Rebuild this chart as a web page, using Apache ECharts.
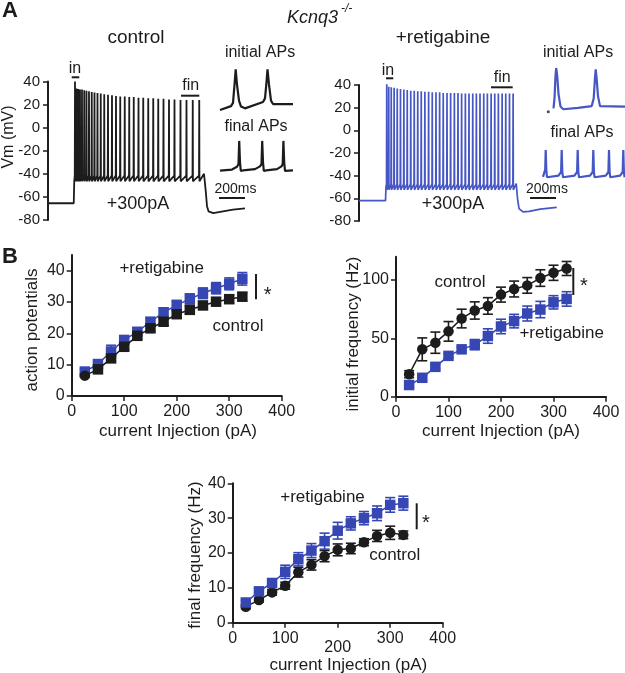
<!DOCTYPE html>
<html>
<head>
<meta charset="utf-8">
<script src="https://cdn.jsdelivr.net/npm/echarts@6/dist/echarts.min.js"></script>
<style>
  html, body { margin: 0; padding: 0; background: #fff; }
  #main { width: 625px; height: 673px; }
</style>
</head>
<body>
<div id="main"></div>
<script>
// ---- panel A : whole sweeps (time in ms, Vm in mV) ----
var ctrlPre = [[0, -65.5], [206, -65.5], [210, -46]];
var ctrlSpikeT = [216, 228, 242, 256, 272, 290, 308, 328, 350, 372, 396, 422, 450, 480, 512, 544,
  578, 614, 650, 686, 724, 762, 802, 842, 882, 924, 968, 1012, 1060, 1108, 1158, 1210];
var ctrlSpikePeak = [40, 34, 33.5, 33, 33, 32.5, 32, 31.5, 31, 30.5, 30, 29.5, 29, 28.5, 28, 27.5,
  27, 27, 26.5, 26.5, 26, 26, 25.5, 25.5, 25, 25, 24.5, 24.5, 24, 24, 24, 24];
var ctrlTrough = -45.5;
var ctrlPost = [[1225, -44], [1248, -40], [1256, -38.5], [1262, -55], [1272, -68], [1284, -72.5],
  [1322, -74], [1400, -72.5], [1480, -71], [1576, -70]];

var retPre = [[0, -62], [212, -62], [216, -50]];
var retSpikeT = [222, 238, 258, 281, 306, 332, 359, 386, 414, 442, 470, 498, 527, 557, 586, 616,
  645, 674, 704, 733, 763, 792, 821, 851, 880, 910, 939, 968, 998, 1027, 1057, 1086, 1115, 1145,
  1174, 1204, 1233];
var retSpikePeak = [43, 38.5, 38, 37.5, 37, 36.5, 36, 35.5, 35, 35, 34.5, 34.5, 34, 34, 33.5, 33.5,
  33.5, 33, 33, 33, 33, 33, 32.5, 32.5, 32.5, 32.5, 32.5, 32.5, 32.5, 32.5, 32.5, 32.5, 32.5, 32.5,
  32.5, 32.5, 32.5];
var retTrough = -51.5;
var retPost = [[1245, -51], [1258, -47], [1263, -47], [1268, -60], [1280, -69], [1312, -72],
  [1360, -71.5], [1450, -69.5], [1582, -68]];

// ---- panel A insets (arbitrary ms, mV) ----
var ctrlInit = [[0, -65.6], [11, -57], [13, -50], [14.5, -10], [15.7, 24], [17, -10], [19, -45],
  [21, -58], [25, -62], [43, -48], [45, -40], [46.3, -10], [47.5, 24], [49, -10], [51, -45],
  [53, -52.5], [73, -52.5]];
var ctrlFin = [[0, -38.5], [12, -36], [17, -30], [18.5, -24], [19.2, 27], [20, -20], [20.8, -39],
  [23, -38], [35, -35], [40, -29], [41.5, -24], [42.2, 27], [43, -20], [43.8, -39], [46, -38],
  [57, -35], [61.5, -29], [62.7, -24], [63.4, 27], [64.2, -20], [65, -39], [67, -38], [73, -38]];
var retInit = [[10.5, -62], [11.5, -40], [12.5, 10], [13.2, 26.8], [14.2, 10], [15.5, -30],
  [17.5, -58], [20.3, -64], [35, -61], [48.7, -57], [50.7, -40], [52, 5], [52.7, 24], [53.6, 5],
  [55, -35], [57, -57], [82, -58]];
var retInitDot = [[5.3, -69.5]];
var retFin = [[0, -41], [1.5, -38], [2.2, -25], [2.7, 18], [3.3, -25], [4, -42], [6, -42],
  [15.5, -38.5], [18.1, -30], [18.7, 18], [19.3, -30], [20, -42], [22, -42],
  [31.5, -38.5], [34.1, -30], [34.7, 18], [35.3, -30], [36, -42], [38, -42],
  [47.1, -38.5], [49.7, -30], [50.3, 18], [50.9, -30], [51.6, -42], [53.6, -42],
  [62.8, -38.5], [65.4, -30], [66, 18], [66.6, -30], [67.3, -42], [69.3, -42],
  [77.1, -38.5], [79.7, -30], [80.3, 18], [80.9, -30], [81.6, -42], [82, -42]];

// ---- panel B : current steps (pA) ----
var currents = [25, 50, 75, 100, 125, 150, 175, 200, 225, 250, 275, 300, 325];
var apCtrl = [6.5, 8.5, 12, 15.7, 19.2, 21.6, 23.7, 26.1, 27.5, 28.9, 30.1, 30.9, 31.7];
var apCtrlErr = [0.5, 0.6, 0.8, 1, 1, 1, 1.1, 1.1, 1.2, 1.2, 1.2, 1.3, 1.3];
var apRet = [7.8, 10.2, 14.2, 17.9, 20.5, 23.7, 26.7, 29, 31, 32.8, 34.4, 35.8, 37.4];
var apRetErr = [0.6, 0.8, 2, 1.1, 1.2, 1.3, 1.4, 1.5, 1.6, 1.7, 1.8, 1.9, 2];

var ifCtrl = [19.3, 40.6, 46.3, 56, 67, 73.9, 77.8, 87.5, 92.3, 95.4, 101.7, 106.2, 109.9];
var ifCtrlErr = [3, 9.8, 9.1, 8.4, 8, 7.4, 7.1, 6.4, 6.8, 6.7, 7.1, 6.5, 6];
var ifRet = [10, 16.2, 25.6, 35, 40.6, 44.6, 52, 60.2, 64.8, 71.3, 74.7, 80.9, 83.8];
var ifRetErr = [2, 2, 2, 2, 2, 4.4, 6.2, 6.2, 5.8, 6.4, 7, 5.7, 6.2];

var ffCtrl = [4.6, 6.5, 8.7, 10.6, 14.5, 16.6, 19.1, 20.9, 21.3, 23.1, 24.9, 25.8, 25.2];
var ffCtrlErr = [0.6, 0.6, 0.8, 1, 1.4, 1.5, 1.6, 1.7, 1.5, 1, 1.6, 1.9, 1.1];
var ffRet = [5.8, 9, 11.4, 14.6, 18.2, 20.7, 23.4, 26.4, 28.5, 30, 31.4, 33.8, 34.3];
var ffRetErr = [0.7, 1, 1.2, 1.9, 1.9, 2, 2.3, 2.4, 1.9, 1.9, 2.1, 2.1, 2];

var FONT = '"Liberation Sans", Arial, sans-serif';
var INK = '#1c1c1c';
var BLUE = '#3646b2';
var TRACE_BLUE = '#4656c4';

function buildTrace(pre, times, peaks, trough, post) {
  var pts = pre.slice();
  for (var i = 0; i < times.length; i++) {
    var t = times[i];
    pts.push([t - 2, trough + 4], [t, peaks[i]], [t + 1.5, trough - 1]);
  }
  return pts.concat(post);
}

function hiddenX(gi, max) {
  return { gridIndex: gi, type: 'value', min: 0, max: max, show: false };
}
function hiddenY(gi, min, max) {
  return { gridIndex: gi, type: 'value', min: min, max: max, show: false };
}

function traceY(gi) {
  return {
    gridIndex: gi, type: 'value', min: -80, max: 40, interval: 20,
    axisLine: { show: true, lineStyle: { color: INK, width: 2 } },
    axisTick: { show: true, length: 5, lineStyle: { color: INK, width: 1.5 } },
    axisLabel: { color: INK, fontSize: 15, fontFamily: FONT, margin: 8 },
    splitLine: { show: false }
  };
}

function bX(gi, rich) {
  var ax = {
    gridIndex: gi, type: 'value', min: 0, max: 400, interval: 100,
    axisLine: { show: true, onZero: false, lineStyle: { color: INK, width: 2 } },
    axisTick: { show: true, length: 5, lineStyle: { color: INK, width: 1.5 } },
    axisLabel: { color: INK, fontSize: 16, fontFamily: FONT, margin: 8 },
    splitLine: { show: false }
  };
  if (rich) {
    ax.axisLabel.formatter = function (v) { return v === 200 ? '{d|200}' : String(v); };
    ax.axisLabel.rich = { d: { fontSize: 16, fontFamily: FONT, color: INK, padding: [9, 0, 0, 0] } };
  }
  return ax;
}
function bY(gi, max, ticks) {
  return {
    gridIndex: gi, type: 'value', min: 0, max: max,
    axisLine: { show: true, onZero: false, lineStyle: { color: INK, width: 2 } },
    axisTick: { show: true, length: 5, customValues: ticks, lineStyle: { color: INK, width: 1.5 } },
    axisLabel: { color: INK, fontSize: 16, fontFamily: FONT, margin: 7, customValues: ticks },
    splitLine: { show: false }
  };
}

function traceSeries(gi, data, color, width) {
  return {
    type: 'line', xAxisIndex: gi, yAxisIndex: gi, data: data,
    showSymbol: false, symbol: 'none', silent: true, sampling: null,
    lineStyle: { color: color, width: width }, z: 2
  };
}

function meanSeries(gi, vals, color, symbol, z) {
  return {
    type: 'line', xAxisIndex: gi, yAxisIndex: gi,
    data: currents.map(function (c, i) {
      var s = typeof symbol === 'function' ? symbol(i) : symbol;
      return { value: [c, vals[i]], symbol: s };
    }),
    symbolSize: 10.5, showSymbol: true,
    lineStyle: { color: color, width: 1.5 },
    itemStyle: { color: color, borderWidth: 0 },
    z: z
  };
}

function errSeries(gi, vals, errs, color, z) {
  return {
    type: 'custom', xAxisIndex: gi, yAxisIndex: gi,
    data: currents.map(function (c, i) { return [c, vals[i] - errs[i], vals[i] + errs[i]]; }),
    encode: { x: 0, y: [1, 2] },
    renderItem: function (params, api) {
      var x = api.value(0);
      var lo = api.coord([x, api.value(1)]);
      var hi = api.coord([x, api.value(2)]);
      var w = 5;
      var st = { stroke: color, lineWidth: 1.6 };
      return {
        type: 'group', children: [
          { type: 'line', shape: { x1: lo[0], y1: lo[1], x2: hi[0], y2: hi[1] }, style: st },
          { type: 'line', shape: { x1: lo[0] - w, y1: lo[1], x2: lo[0] + w, y2: lo[1] }, style: st },
          { type: 'line', shape: { x1: hi[0] - w, y1: hi[1], x2: hi[0] + w, y2: hi[1] }, style: st }
        ]
      };
    },
    z: z
  };
}

function txt(x, y, s, size, extra) {
  var st = { text: s, font: (extra && extra.font) || (size + 'px ' + FONT), fill: (extra && extra.fill) || INK,
    align: (extra && extra.align) || 'center', verticalAlign: 'middle' };
  var el = { type: 'text', x: x, y: y, style: st, z: 100, silent: true };
  if (extra && extra.rot) el.rotation = extra.rot;
  return el;
}
function bar(x1, y1, x2, y2, w) {
  return { type: 'line', shape: { x1: x1, y1: y1, x2: x2, y2: y2 },
    style: { stroke: INK, lineWidth: w || 2 }, z: 100, silent: true };
}

var ROT = Math.PI / 2;

var chart = echarts.init(document.getElementById('main'), null, { renderer: 'canvas' });
chart.setOption({
  animation: false,
  backgroundColor: '#fff',
  textStyle: { fontFamily: FONT },
  grid: [
    { left: 48, top: 81.5, width: 200, height: 138.5, outerBoundsMode: 'none' },
    { left: 359, top: 85, width: 200, height: 136, outerBoundsMode: 'none' },
    { left: 220, top: 62, width: 73, height: 50, outerBoundsMode: 'none' },
    { left: 220, top: 135, width: 73, height: 50, outerBoundsMode: 'none' },
    { left: 543, top: 62, width: 82, height: 50, outerBoundsMode: 'none' },
    { left: 543, top: 140, width: 82, height: 50, outerBoundsMode: 'none' },
    { left: 71.7, top: 255, width: 210, height: 141, outerBoundsMode: 'none' },
    { left: 396, top: 256.7, width: 210, height: 140, outerBoundsMode: 'none' },
    { left: 232.7, top: 483.3, width: 210, height: 139.4, outerBoundsMode: 'none' }
  ],
  xAxis: [
    hiddenX(0, 1600), hiddenX(1, 1600),
    hiddenX(2, 73), hiddenX(3, 73), hiddenX(4, 82), hiddenX(5, 82),
    bX(6), bX(7), bX(8, true)
  ],
  yAxis: [
    traceY(0), traceY(1),
    hiddenY(2, -70, 40), hiddenY(3, -70, 40), hiddenY(4, -70, 40), hiddenY(5, -70, 40),
    bY(6, 45, [0, 10, 20, 30, 40]),
    bY(7, 120, [0, 50, 100]),
    bY(8, 40, [0, 10, 20, 30, 40])
  ],
  series: [
    traceSeries(0, buildTrace(ctrlPre, ctrlSpikeT, ctrlSpikePeak, ctrlTrough, ctrlPost), INK, 1.8),
    traceSeries(1, buildTrace(retPre, retSpikeT, retSpikePeak, retTrough, retPost), TRACE_BLUE, 1.7),
    traceSeries(2, ctrlInit, INK, 2.2),
    traceSeries(3, ctrlFin, INK, 2.2),
    traceSeries(4, retInit, TRACE_BLUE, 2.2),
    { type: 'scatter', xAxisIndex: 4, yAxisIndex: 4, data: retInitDot, symbolSize: 3,
      itemStyle: { color: INK }, silent: true },
    traceSeries(5, retFin, TRACE_BLUE, 2.2),

    errSeries(6, apRet, apRetErr, BLUE, 2),
    meanSeries(6, apRet, BLUE, 'rect', 3),
    errSeries(6, apCtrl, apCtrlErr, INK, 4),
    meanSeries(6, apCtrl, INK, function (i) { return i === 0 ? 'circle' : 'rect'; }, 5),

    errSeries(7, ifCtrl, ifCtrlErr, INK, 2),
    meanSeries(7, ifCtrl, INK, 'circle', 3),
    errSeries(7, ifRet, ifRetErr, BLUE, 4),
    meanSeries(7, ifRet, BLUE, 'rect', 5),

    errSeries(8, ffCtrl, ffCtrlErr, INK, 2),
    meanSeries(8, ffCtrl, INK, 'circle', 3),
    errSeries(8, ffRet, ffRetErr, BLUE, 4),
    meanSeries(8, ffRet, BLUE, 'rect', 5)
  ],
  graphic: [
    txt(10, 11, 'A', 22, { font: 'bold 22px ' + FONT }),
    txt(10, 257, 'B', 22, { font: 'bold 22px ' + FONT }),
    txt(338, 18, 'Kcnq3', 18, { font: 'italic 18px ' + FONT, align: 'right' }),
    txt(341, 9, '-/-', 12, { font: 'italic 12px ' + FONT, align: 'left' }),
    txt(136, 38, 'control', 19),
    txt(443, 38, '+retigabine', 19),
    txt(260, 53, 'initial APs', 16),
    txt(578, 53, 'initial APs', 16),
    txt(256, 127, 'final APs', 16),
    txt(582, 133, 'final APs', 16),
    txt(9, 137, 'Vm (mV)', 16, { rot: ROT }),
    txt(75, 69, 'in', 16),
    bar(71.7, 77.3, 79.3, 77.3),
    txt(190.7, 86, 'fin', 16),
    bar(181, 95.7, 199.3, 95.7),
    txt(388, 70.3, 'in', 16),
    bar(386, 78.3, 393.3, 78.3),
    txt(502.3, 77.5, 'fin', 16),
    bar(491, 87.3, 512.7, 87.3),
    txt(235.5, 189.5, '200ms', 14),
    bar(219, 198, 245, 198),
    txt(547, 189.5, '200ms', 14),
    bar(530, 198, 556, 198),
    txt(138, 204, '+300pA', 18),
    txt(453, 204, '+300pA', 18),

    txt(32.5, 330, 'action potentials', 17, { rot: ROT }),
    txt(161.7, 268.3, '+retigabine', 17),
    txt(238, 326.7, 'control', 17),
    bar(256, 274, 256, 299.3),
    txt(267.7, 295, '*', 20),
    txt(178, 431, 'current Injection (pA)', 17),

    txt(353, 334, 'initial frequency (Hz)', 17, { rot: ROT }),
    txt(460, 282.7, 'control', 17),
    txt(561.7, 333, '+retigabine', 17),
    bar(573.3, 268, 573.3, 295),
    txt(584, 286, '*', 20),
    txt(501, 431, 'current Injection (pA)', 17),

    txt(195, 555, 'final frequency (Hz)', 17, { rot: ROT }),
    txt(322.5, 497.7, '+retigabine', 17),
    txt(394.7, 555, 'control', 17),
    bar(416.7, 503.3, 416.7, 529.3),
    txt(426, 523, '*', 20),
    txt(348.3, 665, 'current Injection (pA)', 17)
  ]
});
</script>
</body>
</html>
